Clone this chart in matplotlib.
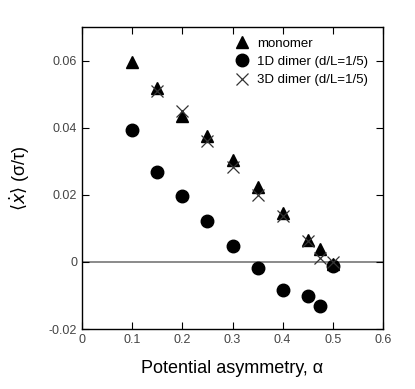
import matplotlib
matplotlib.use('Agg')
import matplotlib.pyplot as plt

plt.rcParams['font.family'] = ['Liberation Sans', 'DejaVu Sans']
plt.rcParams['mathtext.fontset'] = 'dejavusans'

alpha = [0.1, 0.15, 0.2, 0.25, 0.3, 0.35, 0.4, 0.45, 0.475, 0.5]
monomer = [0.0597, 0.0519, 0.0436, 0.0375, 0.0303, 0.0223, 0.0145, 0.0066, 0.0038, -0.0005]
dimer1d = [0.0394, 0.0268, 0.0196, 0.0121, 0.0047, -0.0017, -0.0085, -0.0102, -0.0131, -0.0012]
alpha3d = [0.15, 0.2, 0.25, 0.3, 0.35, 0.4, 0.45, 0.475, 0.5]
dimer3d = [0.0510, 0.0449, 0.0361, 0.0282, 0.0200, 0.0137, 0.0063, 0.0011, 0.0000]

fig = plt.figure(figsize=(4.15, 3.89), dpi=100)
ax = fig.add_axes([0.1976, 0.1542, 0.7253, 0.7764])

ax.axhline(0, color='#777777', lw=1.2, zorder=1)
ax.plot(alpha, monomer, '^', color='black', ms=8, label='monomer', zorder=3)
ax.plot(alpha, dimer1d, 'o', color='black', ms=9, label='1D dimer (d/L=1/5)', zorder=3)
ax.plot(alpha3d, dimer3d, 'x', color='#333333', ms=9, mew=0.9, label='3D dimer (d/L=1/5)', zorder=4)

ax.set_xlim(0, 0.6)
ax.set_ylim(-0.02, 0.0701)
ax.set_xticks([0, 0.1, 0.2, 0.3, 0.4, 0.5, 0.6])
ax.set_xticklabels(['0', '0.1', '0.2', '0.3', '0.4', '0.5', '0.6'])
ax.set_yticks([-0.02, 0, 0.02, 0.04, 0.06])
ax.set_yticklabels(['-0.02', '0', '0.02', '0.04', '0.06'])
ax.tick_params(direction='in', top=True, right=True, labelsize=9, colors='black',
               labelcolor='#444444', length=5)
for s in ax.spines.values():
    s.set_linewidth(1.0)

ax.set_xlabel('Potential asymmetry, α', fontsize=13, labelpad=10)
ax.set_ylabel(r'$\langle\dot{x}\rangle$ (σ/τ)', fontsize=13, labelpad=12)

ax.legend(loc='upper right', frameon=False, fontsize=9.5, handletextpad=0.35,
          borderaxespad=0.4, labelspacing=0.45, handlelength=1.5,
          bbox_to_anchor=(0.985, 1.0))

fig.savefig('out.png', dpi=100)
